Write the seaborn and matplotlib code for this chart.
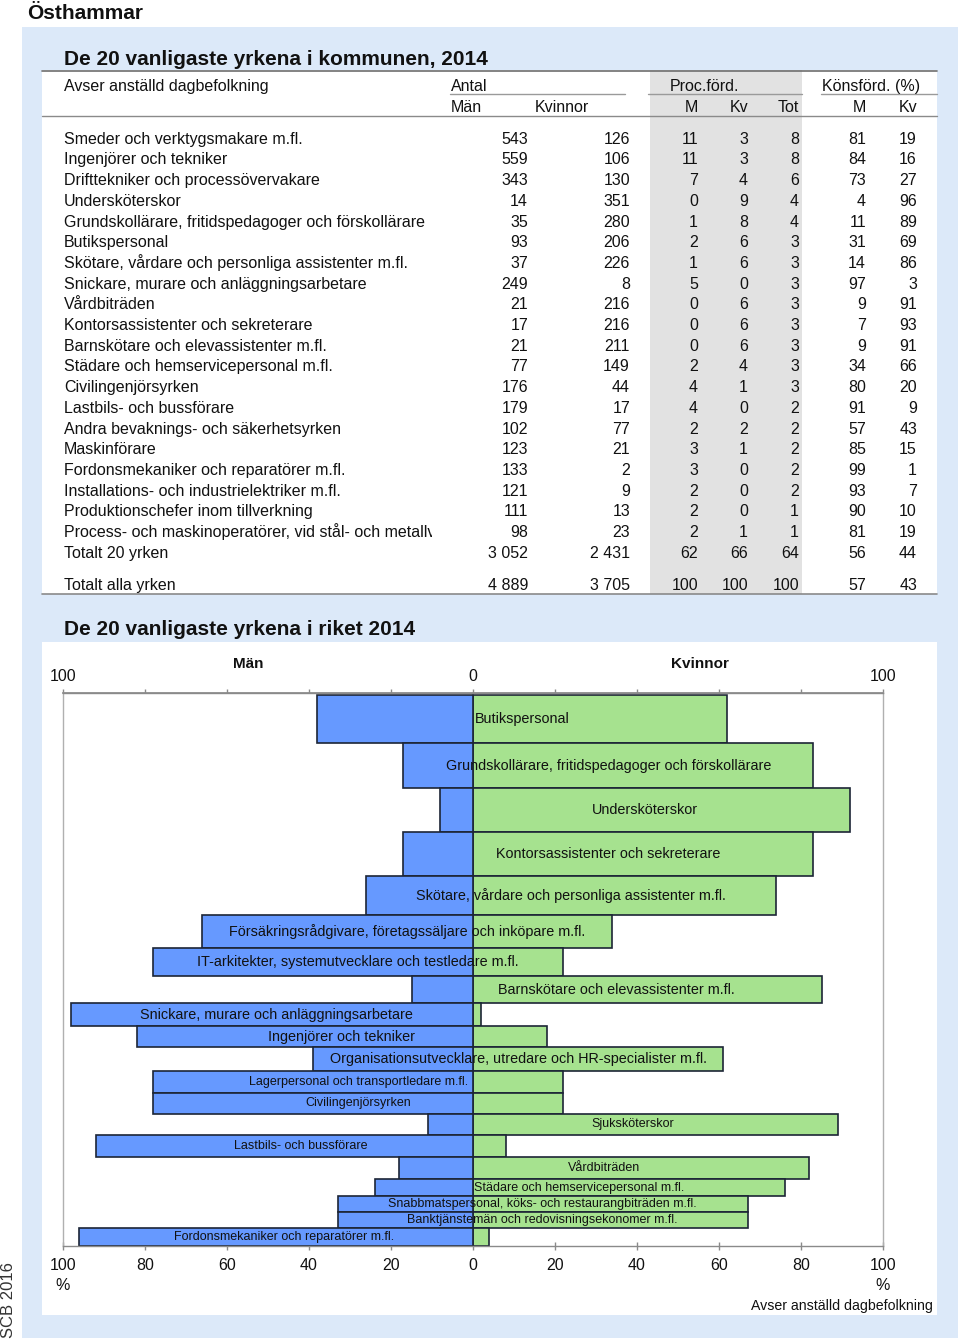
import numpy as np
import pandas as pd
import matplotlib
matplotlib.use("Agg")
import matplotlib.pyplot as plt
from matplotlib.patches import Rectangle
import seaborn as sns

# -------------------------------
# Data: kommunen (Östhammar)
# -------------------------------
kommun_yrken = [
    "Smeder och verktygsmakare m.fl.",
    "Ingenjörer och tekniker",
    "Drifttekniker och processövervakare",
    "Undersköterskor",
    "Grundskollärare, fritidspedagoger och förskollärare",
    "Butikspersonal",
    "Skötare, vårdare och personliga assistenter m.fl.",
    "Snickare, murare och anläggningsarbetare",
    "Vårdbiträden",
    "Kontorsassistenter och sekreterare",
    "Barnskötare och elevassistenter m.fl.",
    "Städare och hemservicepersonal m.fl.",
    "Civilingenjörsyrken",
    "Lastbils- och bussförare",
    "Andra bevaknings- och säkerhetsyrken",
    "Maskinförare",
    "Fordonsmekaniker och reparatörer m.fl.",
    "Installations- och industrielektriker m.fl.",
    "Produktionschefer inom tillverkning",
    "Process- och maskinoperatörer, vid stål- och metallverk",
]
kommun_man = [543, 559, 343, 14, 35, 93, 37, 249, 21, 17, 21, 77, 176, 179, 102, 123, 133, 121, 111, 98]
kommun_kv = [126, 106, 130, 351, 280, 206, 226, 8, 216, 216, 211, 149, 44, 17, 77, 21, 2, 9, 13, 23]
proc_m = [11, 11, 7, 0, 1, 2, 1, 5, 0, 0, 0, 2, 4, 4, 2, 3, 3, 2, 2, 2]
proc_kv = [3, 3, 4, 9, 8, 6, 6, 0, 6, 6, 6, 4, 1, 0, 2, 1, 0, 0, 0, 1]
proc_tot = [8, 8, 6, 4, 4, 3, 3, 3, 3, 3, 3, 3, 3, 2, 2, 2, 2, 2, 1, 1]
kons_m = [81, 84, 73, 4, 11, 31, 14, 97, 9, 7, 9, 34, 80, 91, 57, 85, 99, 93, 90, 81]
kons_kv = [19, 16, 27, 96, 89, 69, 86, 3, 91, 93, 91, 66, 20, 9, 43, 15, 1, 7, 10, 19]

total_labels = ["Totalt 20 yrken", "Totalt alla yrken"]
total_man = [3052, 4889]
total_kv = [2431, 3705]
total_proc_m = [62, 100]
total_proc_kv = [66, 100]
total_proc_tot = [64, 100]
total_kons_m = [56, 57]
total_kons_kv = [44, 43]

# -------------------------------
# Data: riket (share men / women in %, size in thousands)
# -------------------------------
riket_yrken = [
    "Butikspersonal",
    "Grundskollärare, fritidspedagoger och förskollärare",
    "Undersköterskor",
    "Kontorsassistenter och sekreterare",
    "Skötare, vårdare och personliga assistenter m.fl.",
    "Försäkringsrådgivare, företagssäljare och inköpare m.fl.",
    "IT-arkitekter, systemutvecklare och testledare m.fl.",
    "Barnskötare och elevassistenter m.fl.",
    "Snickare, murare och anläggningsarbetare",
    "Ingenjörer och tekniker",
    "Organisationsutvecklare, utredare och HR-specialister m.fl.",
    "Lagerpersonal och transportledare m.fl.",
    "Civilingenjörsyrken",
    "Sjuksköterskor",
    "Lastbils- och bussförare",
    "Vårdbiträden",
    "Städare och hemservicepersonal m.fl.",
    "Snabbmatspersonal, köks- och restaurangbiträden m.fl.",
    "Banktjänstemän och redovisningsekonomer m.fl.",
    "Fordonsmekaniker och reparatörer m.fl.",
]
riket_man = [38, 17, 8, 17, 26, 66, 78, 15, 98, 82, 39, 78, 78, 11, 92, 18, 24, 33, 33, 96]
riket_kv = [62, 83, 92, 83, 74, 34, 22, 85, 2, 18, 61, 22, 22, 89, 8, 82, 76, 67, 67, 4]
riket_antal = [144, 134, 132, 131, 117, 99, 84, 81, 68, 64, 71, 66, 61, 65, 66, 65, 51, 48, 48, 53]

# -------------------------------
# Style
# -------------------------------
sns.set_theme(style="white")
plt.rcParams["font.family"] = ["Liberation Sans", "DejaVu Sans"]

LIGHTBLUE = "#dce9f9"
GRAYCOL = "#e2e2e2"
BLUE = "#6699ff"
GREEN = "#a6e28f"
EDGE = "#1c2536"
TXT = "#111111"

W, H = 960, 1342
PX = 100 / 72

fig = plt.figure(figsize=(W / 100, H / 100), dpi=100)
bg = fig.add_axes([0, 0, 1, 1])
bg.set_xlim(0, W)
bg.set_ylim(H, 0)
bg.axis("off")

# narrow axes for the occupation names, so long names get cut off
lab_ax = fig.add_axes([42 / W, 0, 390 / W, 1])
lab_ax.set_xlim(42, 432)
lab_ax.set_ylim(H, 0)
lab_ax.axis("off")


def put(x, yc, s, size, ha="left", weight="normal", on=None, **kw):
    on = on or bg
    return on.text(x, yc + 0.358 * size * PX, s, fontsize=size, ha=ha,
                   va="baseline", fontweight=weight, color=TXT, **kw)


def fmt(v):
    return f"{v:,}".replace(",", " ")


# backgrounds
bg.add_patch(Rectangle((22, 27), 936, 1311, color=LIGHTBLUE, lw=0))
bg.add_patch(Rectangle((42, 70), 895, 524, color="white", lw=0))
bg.add_patch(Rectangle((650, 70), 152, 524, color=GRAYCOL, lw=0))
bg.add_patch(Rectangle((42, 642), 895, 673, color="white", lw=0))

# lines of the table
bg.plot([42, 937], [70.5, 70.5], color="#6e6e6e", lw=1.2)
for x0, x1 in [(450, 625), (648, 802), (821, 937)]:
    bg.plot([x0, x1], [94, 94], color="#9a9a9a", lw=1)
bg.plot([42, 937], [115.5, 115.5], color="#8a8a8a", lw=1)
bg.plot([42, 937], [594, 594], color="#8a8a8a", lw=1.2)

# titles
put(27, 12, "Östhammar", 15, weight="bold")
put(64, 58, "De 20 vanligaste yrkena i kommunen, 2014", 15, weight="bold")
put(64, 628, "De 20 vanligaste yrkena i riket 2014", 15, weight="bold")

# table header
FS = 11.5
put(64, 85, "Avser anställd dagbefolkning", FS)
put(451, 85, "Antal", FS)
put(670, 85, "Proc.förd.", FS)
put(822, 85, "Könsförd. (%)", FS)
put(451, 106, "Män", FS)
put(535, 106, "Kvinnor", FS)
for x, s in [(698, "M"), (748, "Kv"), (799, "Tot"), (866, "M"), (917, "Kv")]:
    put(x, 106, s, FS, ha="right")

COLS = [528, 630, 698, 748, 799, 866, 917]


def table_row(y, label, vals):
    put(64, y, label, FS, on=lab_ax, clip_on=True)
    for x, v in zip(COLS, vals):
        put(x, y, fmt(v), FS, ha="right")


for i, name in enumerate(kommun_yrken):
    table_row(138 + i * 20.7, name,
              [kommun_man[i], kommun_kv[i], proc_m[i], proc_kv[i], proc_tot[i],
               kons_m[i], kons_kv[i]])
for j, yc in enumerate([138 + 20 * 20.7, 584]):
    table_row(yc, total_labels[j],
              [total_man[j], total_kv[j], total_proc_m[j], total_proc_kv[j],
               total_proc_tot[j], total_kons_m[j], total_kons_kv[j]])

# -------------------------------
# Butterfly chart (riket)
# -------------------------------
df = pd.DataFrame({"yrke": riket_yrken, "man": riket_man,
                   "kv": riket_kv, "antal": riket_antal})
df["man_neg"] = -df["man"]
df["topp"] = df["antal"].cumsum() - df["antal"]
total = df["antal"].sum()

ax = fig.add_axes([63 / W, 1 - 1246 / H, 820 / W, 553 / H])
ax.set_facecolor("none")
sns.barplot(data=df, x="kv", y="yrke", orient="y", color=GREEN, saturation=1,
            edgecolor=EDGE, linewidth=1.2, errorbar=None, ax=ax)
sns.barplot(data=df, x="man_neg", y="yrke", orient="y", color=BLUE, saturation=1,
            edgecolor=EDGE, linewidth=1.2, errorbar=None, ax=ax)

# bar thickness = number employed
for p in ax.patches:
    k = int(round(p.get_y() + p.get_height() / 2))
    p.set_y(df["topp"][k])
    p.set_height(df["antal"][k])

for i, r in df.iterrows():
    fs = 10.4 if i < 11 else 9.0
    ax.text((r["kv"] - r["man"]) / 2, r["topp"] + r["antal"] / 2, r["yrke"],
            ha="center", va="center", fontsize=fs, color=TXT)

ax.set_ylim(total, -6)
ax.set_xlim(-100, 100)
ax.set_yticks([])
ax.set_xlabel("")
ax.set_ylabel("")

ticks = list(range(-100, 101, 20))
ax.set_xticks(ticks)
labels = ax.set_xticklabels(["100\n%" if abs(t) == 100 else str(abs(t)) for t in ticks])
for lab in labels:
    lab.set_linespacing(1.45)
ax.tick_params(axis="x", bottom=True, direction="inout", length=6, width=1,
               color="#8a8a8a", labelsize=11.5, labelcolor=TXT, pad=5.5)

sec = ax.secondary_xaxis("top")
sec.set_xticks(ticks)
sec.set_xticklabels(["100" if t == -100 else "0" if t == 0 else "100" if t == 100 else ""
                     for t in ticks])
sec.tick_params(axis="x", direction="out", length=3, width=1, color="#8a8a8a",
                labelsize=11.5, labelcolor=TXT, pad=3.5)
sec.spines["top"].set_color("#8a8a8a")

for s in ["left", "right"]:
    ax.spines[s].set_color("#b0b0b0")
    ax.spines[s].set_linewidth(1)
for s in ["top", "bottom"]:
    ax.spines[s].set_color("#8a8a8a")
    ax.spines[s].set_linewidth(1)

put(248, 663, "Män", 11, ha="center", weight="bold")
put(700, 663, "Kvinnor", 11, ha="center", weight="bold")
put(933, 1305, "Avser anställd dagbefolkning", 10.2, ha="right")
bg.text(9, 1300, "SCB 2016", rotation=90, ha="center", va="center",
        fontsize=12, color="#333333")

fig.savefig("out.png", dpi=100)
